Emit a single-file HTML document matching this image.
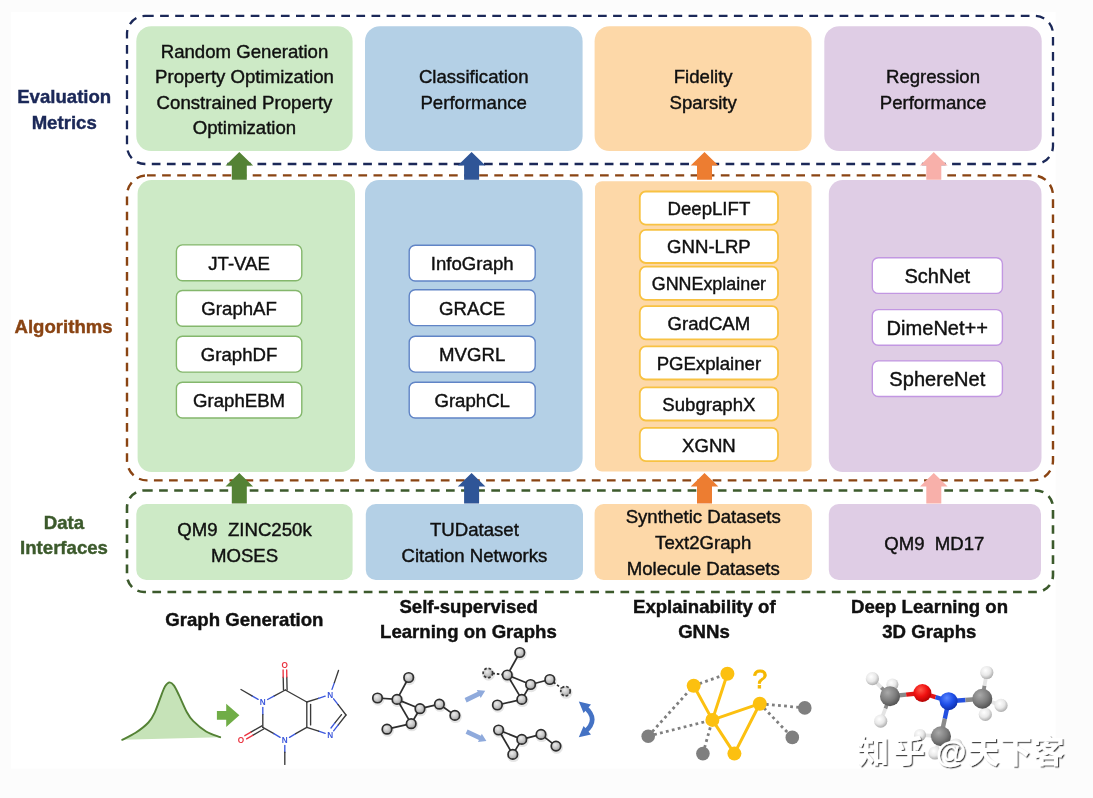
<!DOCTYPE html>
<html lang="en"><head><meta charset="utf-8"><title>DIG overview</title>
<style>
html,body{margin:0;padding:0;background:#fcfcfc;}
body{width:1093px;height:798px;overflow:hidden;}
svg{display:block;filter:blur(0.55px);}
text{font-family:"Liberation Sans","Noto Sans CJK SC",sans-serif;font-size:17.9px;text-anchor:middle;fill:#101010;stroke:#101010;stroke-width:0.4px;}
text.b{font-weight:bold;}
</style></head><body>
<svg width="1093" height="798" viewBox="0 0 1093 798">
<rect x="0" y="0" width="1093" height="798" fill="#fcfcfc"/>
<rect x="11" y="12" width="1044.5" height="756.5" fill="#ffffff"/>
<rect x="136.3" y="26.2" width="216.3" height="124.9" rx="15" fill="#cdeac6" />
<rect x="365.0" y="26.2" width="217.6" height="124.9" rx="15" fill="#b4d0e6" />
<rect x="594.6" y="26.2" width="217.0" height="124.9" rx="15" fill="#fdd8a8" />
<rect x="824.3" y="26.2" width="217.4" height="124.9" rx="15" fill="#dfcde5" />
<rect x="137.6" y="180.0" width="217.4" height="292.0" rx="14" fill="#cdeac6" />
<rect x="365.0" y="180.0" width="217.6" height="292.0" rx="14" fill="#b4d0e6" />
<rect x="595.0" y="181.3" width="216.6" height="290.3" rx="7" fill="#fdd8a8" />
<rect x="828.8" y="180.0" width="212.7" height="292.0" rx="14" fill="#dfcde5" />
<rect x="136.3" y="504.0" width="216.3" height="76.0" rx="10" fill="#cdeac6" />
<rect x="365.8" y="504.0" width="217.2" height="76.0" rx="10" fill="#b4d0e6" />
<rect x="594.6" y="504.0" width="217.3" height="76.0" rx="9" fill="#fdd8a8" />
<rect x="828.8" y="504.0" width="212.2" height="76.0" rx="10" fill="#dfcde5" />
<rect x="127" y="15.9" width="926" height="148.1" rx="18" fill="none" stroke="#1b2858" stroke-width="2.3" stroke-dasharray="8.7 6.4" stroke-dashoffset="0"/>
<rect x="127" y="175.4" width="926" height="305.0" rx="20" fill="none" stroke="#8a4413" stroke-width="2.4" stroke-dasharray="8.7 6.4" stroke-dashoffset="0"/>
<rect x="127" y="490.5" width="926" height="101.5" rx="17" fill="none" stroke="#3c5a2c" stroke-width="2.6" stroke-dasharray="8.7 6.4" stroke-dashoffset="0"/>
<path d="M239.3 152.0 L253.1 165.4 L246.8 165.4 L246.8 179.8 L231.8 179.8 L231.8 165.4 L225.5 165.4 Z" fill="#548235"/>
<path d="M239.3 473.0 L253.1 486.4 L246.8 486.4 L246.8 503.5 L231.8 503.5 L231.8 486.4 L225.5 486.4 Z" fill="#548235"/>
<path d="M471.6 152.0 L485.4 165.4 L479.1 165.4 L479.1 179.8 L464.1 179.8 L464.1 165.4 L457.8 165.4 Z" fill="#2f5597"/>
<path d="M471.6 473.0 L485.4 486.4 L479.1 486.4 L479.1 503.5 L464.1 503.5 L464.1 486.4 L457.8 486.4 Z" fill="#2f5597"/>
<path d="M704.5 152.0 L718.3 165.4 L712.0 165.4 L712.0 179.8 L697.0 179.8 L697.0 165.4 L690.7 165.4 Z" fill="#ed7d31"/>
<path d="M704.5 473.0 L718.3 486.4 L712.0 486.4 L712.0 503.5 L697.0 503.5 L697.0 486.4 L690.7 486.4 Z" fill="#ed7d31"/>
<path d="M933.8 152.0 L947.6 165.4 L941.3 165.4 L941.3 179.8 L926.3 179.8 L926.3 165.4 L920.0 165.4 Z" fill="#f8b0aa"/>
<path d="M933.8 473.0 L947.6 486.4 L941.3 486.4 L941.3 503.5 L926.3 503.5 L926.3 486.4 L920.0 486.4 Z" fill="#f8b0aa"/>
<text transform="translate(244.5 57.7) scale(1.04 1)" class="t" >Random Generation</text>
<text transform="translate(244.5 83.4) scale(1.04 1)" class="t" >Property Optimization</text>
<text transform="translate(244.5 109.0) scale(1.04 1)" class="t" >Constrained Property</text>
<text transform="translate(244.5 134.3) scale(1.04 1)" class="t" >Optimization</text>
<text transform="translate(473.7 83.4) scale(1.04 1)" class="t" >Classification</text>
<text transform="translate(473.7 109.0) scale(1.04 1)" class="t" >Performance</text>
<text transform="translate(703.2 83.4) scale(1.04 1)" class="t" >Fidelity</text>
<text transform="translate(703.2 109.0) scale(1.04 1)" class="t" >Sparsity</text>
<text transform="translate(933.0 83.4) scale(1.04 1)" class="t" >Regression</text>
<text transform="translate(933.0 109.0) scale(1.04 1)" class="t" >Performance</text>
<rect x="176.4" y="244.9" width="125.4" height="35.8" rx="6" fill="#ffffff" stroke="#84b76c" stroke-width="1.4" />
<text transform="translate(239.1 269.8) scale(1.04 1)" class="t" >JT-VAE</text>
<rect x="176.4" y="290.5" width="125.4" height="35.8" rx="6" fill="#ffffff" stroke="#84b76c" stroke-width="1.4" />
<text transform="translate(239.1 315.4) scale(1.04 1)" class="t" >GraphAF</text>
<rect x="176.4" y="336.3" width="125.4" height="35.8" rx="6" fill="#ffffff" stroke="#84b76c" stroke-width="1.4" />
<text transform="translate(239.1 361.2) scale(1.04 1)" class="t" >GraphDF</text>
<rect x="176.4" y="382.2" width="125.4" height="35.8" rx="6" fill="#ffffff" stroke="#84b76c" stroke-width="1.4" />
<text transform="translate(239.1 407.1) scale(1.04 1)" class="t" >GraphEBM</text>
<rect x="409.2" y="245.2" width="126.0" height="35.8" rx="6" fill="#ffffff" stroke="#6084c6" stroke-width="1.4" />
<text transform="translate(472.2 270.1) scale(1.04 1)" class="t" >InfoGraph</text>
<rect x="409.2" y="289.8" width="126.0" height="35.8" rx="6" fill="#ffffff" stroke="#6084c6" stroke-width="1.4" />
<text transform="translate(472.2 314.7) scale(1.04 1)" class="t" >GRACE</text>
<rect x="409.2" y="336.3" width="126.0" height="35.8" rx="6" fill="#ffffff" stroke="#6084c6" stroke-width="1.4" />
<text transform="translate(472.2 361.2) scale(1.04 1)" class="t" >MVGRL</text>
<rect x="409.2" y="382.2" width="126.0" height="35.8" rx="6" fill="#ffffff" stroke="#6084c6" stroke-width="1.4" />
<text transform="translate(472.2 407.1) scale(1.04 1)" class="t" >GraphCL</text>
<rect x="639.8" y="191.5" width="138.2" height="33.2" rx="6" fill="#ffffff" stroke="#f8c242" stroke-width="1.8" />
<text transform="translate(708.9 215.1) scale(1.04 1)" class="t" >DeepLIFT</text>
<rect x="639.8" y="229.8" width="138.2" height="33.2" rx="6" fill="#ffffff" stroke="#f8c242" stroke-width="1.8" />
<text transform="translate(708.9 253.4) scale(1.04 1)" class="t" >GNN-LRP</text>
<rect x="639.8" y="266.6" width="138.2" height="33.2" rx="6" fill="#ffffff" stroke="#f8c242" stroke-width="1.8" />
<text transform="translate(708.9 290.2) scale(1.0 1)" class="t" >GNNExplainer</text>
<rect x="639.8" y="306.2" width="138.2" height="33.2" rx="6" fill="#ffffff" stroke="#f8c242" stroke-width="1.8" />
<text transform="translate(708.9 329.8) scale(1.04 1)" class="t" >GradCAM</text>
<rect x="639.8" y="346.3" width="138.2" height="33.2" rx="6" fill="#ffffff" stroke="#f8c242" stroke-width="1.8" />
<text transform="translate(708.9 369.9) scale(1.04 1)" class="t" >PGExplainer</text>
<rect x="639.8" y="387.3" width="138.2" height="33.2" rx="6" fill="#ffffff" stroke="#f8c242" stroke-width="1.8" />
<text transform="translate(708.9 410.9) scale(1.04 1)" class="t" >SubgraphX</text>
<rect x="639.8" y="427.9" width="138.2" height="33.2" rx="6" fill="#ffffff" stroke="#f8c242" stroke-width="1.8" />
<text transform="translate(708.9 451.5) scale(1.04 1)" class="t" >XGNN</text>
<rect x="872.3" y="257.8" width="130.1" height="35.6" rx="6" fill="#ffffff" stroke="#c297e2" stroke-width="1.4" />
<text transform="translate(937.3 282.9) scale(1.04 1)" class="t" style="font-size:19.3px">SchNet</text>
<rect x="872.3" y="309.6" width="130.1" height="35.6" rx="6" fill="#ffffff" stroke="#c297e2" stroke-width="1.4" />
<text transform="translate(937.3 334.7) scale(1.04 1)" class="t" style="font-size:19.3px">DimeNet++</text>
<rect x="872.3" y="360.9" width="130.1" height="35.6" rx="6" fill="#ffffff" stroke="#c297e2" stroke-width="1.4" />
<text transform="translate(937.3 386.0) scale(1.04 1)" class="t" style="font-size:19.3px">SphereNet</text>
<text transform="translate(244.5 536.4) scale(1.04 1)" class="t" >QM9&#160;&#160;ZINC250k</text>
<text transform="translate(244.5 562.3) scale(1.04 1)" class="t" >MOSES</text>
<text transform="translate(474.4 536.4) scale(1.04 1)" class="t" >TUDataset</text>
<text transform="translate(474.4 562.3) scale(1.04 1)" class="t" >Citation Networks</text>
<text transform="translate(703.2 523.4) scale(1.04 1)" class="t" >Synthetic Datasets</text>
<text transform="translate(703.2 549.0) scale(1.04 1)" class="t" >Text2Graph</text>
<text transform="translate(703.2 574.8) scale(1.04 1)" class="t" >Molecule Datasets</text>
<text transform="translate(934.3 549.7) scale(1.04 1)" class="t" >QM9&#160;&#160;MD17</text>
<text transform="translate(64.2 103.2) scale(1.04 1)" class="b" style="fill:#1b2858;stroke:#1b2858">Evaluation</text>
<text transform="translate(64.2 128.7) scale(1.04 1)" class="b" style="fill:#1b2858;stroke:#1b2858">Metrics</text>
<text transform="translate(63.6 332.6) scale(1.04 1)" class="b" style="fill:#8a4413;stroke:#8a4413">Algorithms</text>
<text transform="translate(64.0 528.6) scale(1.04 1)" class="b" style="fill:#3c5a2c;stroke:#3c5a2c">Data</text>
<text transform="translate(64.0 553.9) scale(1.04 1)" class="b" style="fill:#3c5a2c;stroke:#3c5a2c">Interfaces</text>
<text transform="translate(244.4 626.0) scale(1.04 1)" class="b" >Graph Generation</text>
<text transform="translate(468.7 612.9) scale(1.04 1)" class="b" >Self-supervised</text>
<text transform="translate(468.4 638.4) scale(1.04 1)" class="b" >Learning on Graphs</text>
<text transform="translate(704.3 612.9) scale(1.04 1)" class="b" >Explainability of</text>
<text transform="translate(704.0 638.4) scale(1.04 1)" class="b" >GNNs</text>
<text transform="translate(929.5 613.0) scale(1.04 1)" class="b" >Deep Learning on</text>
<text transform="translate(929.3 638.4) scale(1.04 1)" class="b" >3D Graphs</text>
<defs>
<radialGradient id="gn" cx="0.4" cy="0.35" r="0.7"><stop offset="0" stop-color="#ececec"/><stop offset="0.6" stop-color="#c2c2c2"/><stop offset="1" stop-color="#8e8e8e"/></radialGradient>
<radialGradient id="gc" cx="0.38" cy="0.32" r="0.75"><stop offset="0" stop-color="#a9a9a9"/><stop offset="0.55" stop-color="#7d7d7d"/><stop offset="1" stop-color="#4a4a4a"/></radialGradient>
<radialGradient id="gh" cx="0.4" cy="0.35" r="0.75"><stop offset="0" stop-color="#ffffff"/><stop offset="0.5" stop-color="#e8e8e8"/><stop offset="1" stop-color="#9a9a9a"/></radialGradient>
<radialGradient id="go" cx="0.4" cy="0.32" r="0.75"><stop offset="0" stop-color="#ff5a4a"/><stop offset="0.5" stop-color="#f01010"/><stop offset="1" stop-color="#a80000"/></radialGradient>
<radialGradient id="gnb" cx="0.4" cy="0.32" r="0.75"><stop offset="0" stop-color="#5a86ff"/><stop offset="0.5" stop-color="#1f4fe8"/><stop offset="1" stop-color="#0b2aa0"/></radialGradient>
</defs>
<path d="M122.2 739.8 C124.4 738.6 131.2 735.7 135.6 732.8 C140.0 729.9 145.2 725.9 148.4 722.5 C151.6 719.1 152.7 716.8 154.8 712.3 C156.9 707.8 159.5 700.0 161.2 695.6 C162.9 691.2 163.7 688.4 165.1 686.2 C166.5 684.0 168.1 682.5 169.6 682.4 C171.1 682.3 172.4 683.4 174.0 685.6 C175.6 687.8 177.0 691.2 179.2 695.6 C181.3 700.0 184.6 708.0 186.9 712.3 C189.2 716.6 190.1 718.0 193.3 721.2 C196.5 724.4 201.6 728.8 206.1 731.5 C210.6 734.2 217.8 736.2 220.2 737.2 Z" fill="#c6e3b8"/>
<path d="M122.2 739.8 C124.4 738.6 131.2 735.7 135.6 732.8 C140.0 729.9 145.2 725.9 148.4 722.5 C151.6 719.1 152.7 716.8 154.8 712.3 C156.9 707.8 159.5 700.0 161.2 695.6 C162.9 691.2 163.7 688.4 165.1 686.2 C166.5 684.0 168.1 682.5 169.6 682.4 C171.1 682.3 172.4 683.4 174.0 685.6 C175.6 687.8 177.0 691.2 179.2 695.6 C181.3 700.0 184.6 708.0 186.9 712.3 C189.2 716.6 190.1 718.0 193.3 721.2 C196.5 724.4 201.6 728.8 206.1 731.5 C210.6 734.2 217.8 736.2 220.2 737.2" fill="none" stroke="#548235" stroke-width="1.9" stroke-linejoin="round" stroke-linecap="round"/>
<path d="M216.9 711 L226.2 711 L226.2 703.7 L239.4 715.3 L226.2 726.9 L226.2 719.8 L216.9 719.8 Z" fill="#70ad47"/>
<line x1="287.1" y1="690.0" x2="286.8" y2="677.1" stroke="#3a3a3a" stroke-width="1.35" stroke-linecap="round"/>
<line x1="286.8" y1="677.1" x2="286.7" y2="669.9" stroke="#ea3340" stroke-width="1.35" stroke-linecap="round"/>
<line x1="283.5" y1="690.0" x2="283.2" y2="677.2" stroke="#3a3a3a" stroke-width="1.35" stroke-linecap="round"/>
<line x1="283.2" y1="677.2" x2="283.1" y2="669.9" stroke="#ea3340" stroke-width="1.35" stroke-linecap="round"/>
<line x1="285.3" y1="690.0" x2="273.9" y2="696.1" stroke="#3a3a3a" stroke-width="1.35" stroke-linecap="round"/>
<line x1="273.9" y1="696.1" x2="267.6" y2="699.5" stroke="#3c58dc" stroke-width="1.35" stroke-linecap="round"/>
<line x1="258.1" y1="699.3" x2="252.0" y2="695.8" stroke="#3c58dc" stroke-width="1.35" stroke-linecap="round"/>
<line x1="252.0" y1="695.8" x2="241.0" y2="689.5" stroke="#3a3a3a" stroke-width="1.35" stroke-linecap="round"/>
<line x1="262.8" y1="707.4" x2="262.8" y2="714.6" stroke="#3c58dc" stroke-width="1.35" stroke-linecap="round"/>
<line x1="262.8" y1="714.6" x2="262.8" y2="727.4" stroke="#3a3a3a" stroke-width="1.35" stroke-linecap="round"/>
<line x1="261.9" y1="725.8" x2="250.9" y2="732.2" stroke="#3a3a3a" stroke-width="1.35" stroke-linecap="round"/>
<line x1="250.9" y1="732.2" x2="244.8" y2="735.7" stroke="#ea3340" stroke-width="1.35" stroke-linecap="round"/>
<line x1="263.7" y1="729.0" x2="252.7" y2="735.3" stroke="#3a3a3a" stroke-width="1.35" stroke-linecap="round"/>
<line x1="252.7" y1="735.3" x2="246.6" y2="738.9" stroke="#ea3340" stroke-width="1.35" stroke-linecap="round"/>
<line x1="262.8" y1="727.4" x2="273.9" y2="733.7" stroke="#3a3a3a" stroke-width="1.35" stroke-linecap="round"/>
<line x1="273.9" y1="733.7" x2="280.1" y2="737.3" stroke="#3c58dc" stroke-width="1.35" stroke-linecap="round"/>
<line x1="284.8" y1="745.4" x2="284.8" y2="752.2" stroke="#3c58dc" stroke-width="1.35" stroke-linecap="round"/>
<line x1="284.8" y1="752.2" x2="284.8" y2="764.4" stroke="#3a3a3a" stroke-width="1.35" stroke-linecap="round"/>
<line x1="289.5" y1="737.3" x2="295.7" y2="733.7" stroke="#3c58dc" stroke-width="1.35" stroke-linecap="round"/>
<line x1="295.7" y1="733.7" x2="306.8" y2="727.4" stroke="#3a3a3a" stroke-width="1.35" stroke-linecap="round"/>
<line x1="306.8" y1="727.4" x2="306.8" y2="702.0" stroke="#3a3a3a" stroke-width="1.35" stroke-linecap="round"/>
<line x1="310.6" y1="724.9" x2="310.6" y2="704.5" stroke="#3a3a3a" stroke-width="1.35" stroke-linecap="round"/>
<line x1="306.8" y1="702.0" x2="285.3" y2="690.0" stroke="#3a3a3a" stroke-width="1.35" stroke-linecap="round"/>
<line x1="306.8" y1="702.0" x2="318.5" y2="698.3" stroke="#3a3a3a" stroke-width="1.35" stroke-linecap="round"/>
<line x1="318.5" y1="698.3" x2="325.2" y2="696.1" stroke="#3c58dc" stroke-width="1.35" stroke-linecap="round"/>
<line x1="332.0" y1="689.4" x2="334.4" y2="682.6" stroke="#3c58dc" stroke-width="1.35" stroke-linecap="round"/>
<line x1="334.4" y1="682.6" x2="338.5" y2="670.5" stroke="#3a3a3a" stroke-width="1.35" stroke-linecap="round"/>
<line x1="333.6" y1="698.8" x2="338.1" y2="704.6" stroke="#3c58dc" stroke-width="1.35" stroke-linecap="round"/>
<line x1="338.1" y1="704.6" x2="346.0" y2="715.0" stroke="#3a3a3a" stroke-width="1.35" stroke-linecap="round"/>
<line x1="346.0" y1="715.0" x2="338.1" y2="725.1" stroke="#3a3a3a" stroke-width="1.35" stroke-linecap="round"/>
<line x1="338.1" y1="725.1" x2="333.6" y2="730.8" stroke="#3c58dc" stroke-width="1.35" stroke-linecap="round"/>
<line x1="341.5" y1="714.6" x2="334.7" y2="723.2" stroke="#3a3a3a" stroke-width="1.35" stroke-linecap="round"/>
<line x1="334.7" y1="723.2" x2="331.0" y2="728.0" stroke="#3c58dc" stroke-width="1.35" stroke-linecap="round"/>
<line x1="325.2" y1="733.3" x2="318.6" y2="731.2" stroke="#3c58dc" stroke-width="1.35" stroke-linecap="round"/>
<line x1="318.6" y1="731.2" x2="306.8" y2="727.4" stroke="#3a3a3a" stroke-width="1.35" stroke-linecap="round"/>
<text x="284.8" y="667.5" style="font-size:8.2px;font-weight:bold;stroke:none;fill:#ea3340">O</text>
<text x="262.8" y="705.0" style="font-size:8.2px;font-weight:bold;stroke:none;fill:#3c58dc">N</text>
<text x="241.0" y="743.0" style="font-size:8.2px;font-weight:bold;stroke:none;fill:#ea3340">O</text>
<text x="284.8" y="743.0" style="font-size:8.2px;font-weight:bold;stroke:none;fill:#3c58dc">N</text>
<text x="330.3" y="697.5" style="font-size:8.2px;font-weight:bold;stroke:none;fill:#3c58dc">N</text>
<text x="330.3" y="738.0" style="font-size:8.2px;font-weight:bold;stroke:none;fill:#3c58dc">N</text>
<line x1="408.7" y1="677.5" x2="397.0" y2="699.4" stroke="#2e2e2e" stroke-width="1.7"/>
<line x1="377.5" y1="698.0" x2="397.0" y2="699.4" stroke="#2e2e2e" stroke-width="1.7"/>
<line x1="397.0" y1="699.4" x2="420.0" y2="708.7" stroke="#2e2e2e" stroke-width="1.7"/>
<line x1="397.0" y1="699.4" x2="411.2" y2="723.7" stroke="#2e2e2e" stroke-width="1.7"/>
<line x1="420.0" y1="708.7" x2="411.2" y2="723.7" stroke="#2e2e2e" stroke-width="1.7"/>
<line x1="411.2" y1="723.7" x2="387.0" y2="729.2" stroke="#2e2e2e" stroke-width="1.7"/>
<line x1="420.0" y1="708.7" x2="439.4" y2="704.2" stroke="#2e2e2e" stroke-width="1.7"/>
<line x1="439.4" y1="704.2" x2="454.9" y2="715.4" stroke="#2e2e2e" stroke-width="1.7"/>
<circle cx="409.3" cy="678.8" r="6.35" fill="#000" opacity="0.10"/>
<circle cx="408.7" cy="677.5" r="4.75" fill="url(#gn)" stroke="#2e2e2e" stroke-width="1.7"/>
<circle cx="378.1" cy="699.3" r="6.35" fill="#000" opacity="0.10"/>
<circle cx="377.5" cy="698.0" r="4.75" fill="url(#gn)" stroke="#2e2e2e" stroke-width="1.7"/>
<circle cx="397.6" cy="700.7" r="6.35" fill="#000" opacity="0.10"/>
<circle cx="397.0" cy="699.4" r="4.75" fill="url(#gn)" stroke="#2e2e2e" stroke-width="1.7"/>
<circle cx="420.6" cy="710.0" r="6.35" fill="#000" opacity="0.10"/>
<circle cx="420.0" cy="708.7" r="4.75" fill="url(#gn)" stroke="#2e2e2e" stroke-width="1.7"/>
<circle cx="411.8" cy="725.0" r="6.35" fill="#000" opacity="0.10"/>
<circle cx="411.2" cy="723.7" r="4.75" fill="url(#gn)" stroke="#2e2e2e" stroke-width="1.7"/>
<circle cx="387.6" cy="730.5" r="6.35" fill="#000" opacity="0.10"/>
<circle cx="387.0" cy="729.2" r="4.75" fill="url(#gn)" stroke="#2e2e2e" stroke-width="1.7"/>
<circle cx="440.0" cy="705.5" r="6.35" fill="#000" opacity="0.10"/>
<circle cx="439.4" cy="704.2" r="4.75" fill="url(#gn)" stroke="#2e2e2e" stroke-width="1.7"/>
<circle cx="455.5" cy="716.7" r="6.35" fill="#000" opacity="0.10"/>
<circle cx="454.9" cy="715.4" r="4.75" fill="url(#gn)" stroke="#2e2e2e" stroke-width="1.7"/>
<line x1="519.8" y1="652.5" x2="507.3" y2="675.0" stroke="#2e2e2e" stroke-width="1.7"/>
<line x1="487.9" y1="673.0" x2="507.3" y2="675.0" stroke="#2e2e2e" stroke-width="1.7" stroke-dasharray="2.5 2"/>
<line x1="507.3" y1="675.0" x2="530.6" y2="684.5" stroke="#2e2e2e" stroke-width="1.7"/>
<line x1="507.3" y1="675.0" x2="521.8" y2="699.4" stroke="#2e2e2e" stroke-width="1.7"/>
<line x1="530.6" y1="684.5" x2="521.8" y2="699.4" stroke="#2e2e2e" stroke-width="1.7"/>
<line x1="521.8" y1="699.4" x2="497.4" y2="705.0" stroke="#2e2e2e" stroke-width="1.7"/>
<line x1="530.6" y1="684.5" x2="549.8" y2="679.5" stroke="#2e2e2e" stroke-width="1.7"/>
<line x1="549.8" y1="679.5" x2="565.5" y2="691.2" stroke="#2e2e2e" stroke-width="1.7" stroke-dasharray="2.5 2"/>
<circle cx="520.4" cy="653.8" r="6.35" fill="#000" opacity="0.10"/>
<circle cx="519.8" cy="652.5" r="4.75" fill="url(#gn)" stroke="#2e2e2e" stroke-width="1.7"/>
<circle cx="488.5" cy="674.3" r="6.35" fill="#000" opacity="0.10"/>
<circle cx="487.9" cy="673.0" r="4.75" fill="url(#gn)" stroke="#3a3a3a" stroke-width="1.7" stroke-dasharray="2.6 1.9"/>
<circle cx="507.9" cy="676.3" r="6.35" fill="#000" opacity="0.10"/>
<circle cx="507.3" cy="675.0" r="4.75" fill="url(#gn)" stroke="#2e2e2e" stroke-width="1.7"/>
<circle cx="531.2" cy="685.8" r="6.35" fill="#000" opacity="0.10"/>
<circle cx="530.6" cy="684.5" r="4.75" fill="url(#gn)" stroke="#2e2e2e" stroke-width="1.7"/>
<circle cx="522.4" cy="700.7" r="6.35" fill="#000" opacity="0.10"/>
<circle cx="521.8" cy="699.4" r="4.75" fill="url(#gn)" stroke="#2e2e2e" stroke-width="1.7"/>
<circle cx="498.0" cy="706.3" r="6.35" fill="#000" opacity="0.10"/>
<circle cx="497.4" cy="705.0" r="4.75" fill="url(#gn)" stroke="#2e2e2e" stroke-width="1.7"/>
<circle cx="550.4" cy="680.8" r="6.35" fill="#000" opacity="0.10"/>
<circle cx="549.8" cy="679.5" r="4.75" fill="url(#gn)" stroke="#2e2e2e" stroke-width="1.7"/>
<circle cx="566.1" cy="692.5" r="6.35" fill="#000" opacity="0.10"/>
<circle cx="565.5" cy="691.2" r="4.75" fill="url(#gn)" stroke="#3a3a3a" stroke-width="1.7" stroke-dasharray="2.6 1.9"/>
<line x1="498.6" y1="730.0" x2="521.8" y2="739.4" stroke="#2e2e2e" stroke-width="1.7"/>
<line x1="498.6" y1="730.0" x2="512.8" y2="754.4" stroke="#2e2e2e" stroke-width="1.7"/>
<line x1="521.8" y1="739.4" x2="512.8" y2="754.4" stroke="#2e2e2e" stroke-width="1.7"/>
<line x1="521.8" y1="739.4" x2="541.0" y2="734.4" stroke="#2e2e2e" stroke-width="1.7"/>
<line x1="541.0" y1="734.4" x2="556.0" y2="746.1" stroke="#2e2e2e" stroke-width="1.7"/>
<circle cx="499.2" cy="731.3" r="6.35" fill="#000" opacity="0.10"/>
<circle cx="498.6" cy="730.0" r="4.75" fill="url(#gn)" stroke="#2e2e2e" stroke-width="1.7"/>
<circle cx="522.4" cy="740.7" r="6.35" fill="#000" opacity="0.10"/>
<circle cx="521.8" cy="739.4" r="4.75" fill="url(#gn)" stroke="#2e2e2e" stroke-width="1.7"/>
<circle cx="513.4" cy="755.7" r="6.35" fill="#000" opacity="0.10"/>
<circle cx="512.8" cy="754.4" r="4.75" fill="url(#gn)" stroke="#2e2e2e" stroke-width="1.7"/>
<circle cx="541.6" cy="735.7" r="6.35" fill="#000" opacity="0.10"/>
<circle cx="541.0" cy="734.4" r="4.75" fill="url(#gn)" stroke="#2e2e2e" stroke-width="1.7"/>
<circle cx="556.6" cy="747.4" r="6.35" fill="#000" opacity="0.10"/>
<circle cx="556.0" cy="746.1" r="4.75" fill="url(#gn)" stroke="#2e2e2e" stroke-width="1.7"/>
<path d="M466.6 702.5 L479.8 696.1 L480.7 698.0 L485.2 690.8 L476.8 689.9 L477.7 691.8 L464.6 698.1 Z" fill="#8faadc"/>
<path d="M465.6 733.8 L478.9 740.0 L478.0 741.9 L486.4 740.9 L481.8 733.8 L480.9 735.7 L467.6 729.4 Z" fill="#8faadc"/>
<path d="M584.8 707 Q599.6 719.5 584.8 732" fill="none" stroke="#4472c4" stroke-width="4.8"/>
<path d="M578.8 701.6 L591 704.6 L583.6 713 Z" fill="#4472c4"/>
<path d="M578.8 737.3 L591 734.4 L583.6 726 Z" fill="#4472c4"/>
<line x1="648.2" y1="736.2" x2="693.7" y2="685.7" stroke="#7f7f7f" stroke-width="2.8" stroke-dasharray="2.8 3.3"/>
<line x1="648.2" y1="736.2" x2="712.4" y2="719.9" stroke="#7f7f7f" stroke-width="2.8" stroke-dasharray="2.8 3.3"/>
<line x1="702.9" y1="753.6" x2="712.4" y2="719.9" stroke="#7f7f7f" stroke-width="2.8" stroke-dasharray="2.8 3.3"/>
<line x1="693.7" y1="685.7" x2="727.4" y2="673.7" stroke="#7f7f7f" stroke-width="2.8" stroke-dasharray="2.8 3.3"/>
<line x1="759.8" y1="703.7" x2="804.8" y2="707.9" stroke="#7f7f7f" stroke-width="2.8" stroke-dasharray="2.8 3.3"/>
<line x1="759.8" y1="703.7" x2="792.3" y2="737.4" stroke="#7f7f7f" stroke-width="2.8" stroke-dasharray="2.8 3.3"/>
<line x1="693.7" y1="685.7" x2="712.4" y2="719.9" stroke="#fcc010" stroke-width="3.0" stroke-linecap="round"/>
<line x1="727.4" y1="673.7" x2="712.4" y2="719.9" stroke="#fcc010" stroke-width="3.0" stroke-linecap="round"/>
<line x1="712.4" y1="719.9" x2="759.8" y2="703.7" stroke="#fcc010" stroke-width="3.0" stroke-linecap="round"/>
<line x1="712.4" y1="719.9" x2="734.4" y2="753.6" stroke="#fcc010" stroke-width="3.0" stroke-linecap="round"/>
<line x1="759.8" y1="703.7" x2="734.4" y2="753.6" stroke="#fcc010" stroke-width="3.0" stroke-linecap="round"/>
<circle cx="648.2" cy="736.2" r="6.8" fill="#7f7f7f"/>
<circle cx="702.9" cy="753.6" r="6.8" fill="#7f7f7f"/>
<circle cx="804.8" cy="707.9" r="6.8" fill="#7f7f7f"/>
<circle cx="792.3" cy="737.4" r="6.8" fill="#7f7f7f"/>
<circle cx="693.7" cy="685.7" r="7" fill="#fcc010"/>
<circle cx="727.4" cy="673.7" r="7" fill="#fcc010"/>
<circle cx="712.4" cy="719.9" r="7" fill="#fcc010"/>
<circle cx="759.8" cy="703.7" r="7" fill="#fcc010"/>
<circle cx="734.4" cy="753.6" r="7" fill="#fcc010"/>
<text x="759.8" y="687.6" style="font-size:26.5px;fill:#f5b800;stroke:#f5b800;stroke-width:0.8px">?</text>
<line x1="890.0" y1="696.2" x2="891.2" y2="690.4" stroke="#8a8a8a" stroke-width="3.6"/>
<line x1="891.2" y1="690.4" x2="892.4" y2="684.5" stroke="#e4e4e4" stroke-width="3.6"/>
<circle cx="892.4" cy="684.5" r="6" fill="url(#gh)"/>
<line x1="941.0" y1="736.2" x2="930.5" y2="735.6" stroke="#8a8a8a" stroke-width="3.6"/>
<line x1="930.5" y1="735.6" x2="920.0" y2="735.0" stroke="#e4e4e4" stroke-width="3.6"/>
<circle cx="920.0" cy="735.0" r="6" fill="url(#gh)"/>
<line x1="890.0" y1="696.2" x2="881.2" y2="687.5" stroke="#8a8a8a" stroke-width="3.8"/>
<line x1="881.2" y1="687.5" x2="872.4" y2="678.7" stroke="#e4e4e4" stroke-width="3.8"/>
<line x1="890.0" y1="696.2" x2="885.4" y2="708.7" stroke="#8a8a8a" stroke-width="3.8"/>
<line x1="885.4" y1="708.7" x2="880.7" y2="721.2" stroke="#e4e4e4" stroke-width="3.8"/>
<line x1="982.3" y1="698.7" x2="984.5" y2="685.6" stroke="#8a8a8a" stroke-width="3.8"/>
<line x1="984.5" y1="685.6" x2="986.8" y2="672.5" stroke="#e4e4e4" stroke-width="3.8"/>
<line x1="982.3" y1="698.7" x2="991.6" y2="702.0" stroke="#8a8a8a" stroke-width="3.8"/>
<line x1="991.6" y1="702.0" x2="1001.0" y2="705.4" stroke="#e4e4e4" stroke-width="3.8"/>
<line x1="982.3" y1="698.7" x2="983.8" y2="706.5" stroke="#8a8a8a" stroke-width="3.8"/>
<line x1="983.8" y1="706.5" x2="985.3" y2="714.4" stroke="#e4e4e4" stroke-width="3.8"/>
<line x1="941.0" y1="736.2" x2="938.0" y2="744.6" stroke="#8a8a8a" stroke-width="3.8"/>
<line x1="938.0" y1="744.6" x2="935.0" y2="753.0" stroke="#e4e4e4" stroke-width="3.8"/>
<line x1="941.0" y1="736.2" x2="948.5" y2="740.6" stroke="#8a8a8a" stroke-width="3.8"/>
<line x1="948.5" y1="740.6" x2="956.0" y2="745.0" stroke="#e4e4e4" stroke-width="3.8"/>
<line x1="890.0" y1="696.2" x2="906.2" y2="694.6" stroke="#8a8a8a" stroke-width="4.4"/>
<line x1="906.2" y1="694.6" x2="922.4" y2="693.0" stroke="#e01515" stroke-width="4.4"/>
<line x1="922.4" y1="693.0" x2="935.5" y2="697.1" stroke="#e01515" stroke-width="4.4"/>
<line x1="935.5" y1="697.1" x2="948.6" y2="701.2" stroke="#2450e0" stroke-width="4.4"/>
<line x1="948.6" y1="701.2" x2="965.5" y2="700.0" stroke="#2450e0" stroke-width="4.4"/>
<line x1="965.5" y1="700.0" x2="982.3" y2="698.7" stroke="#8a8a8a" stroke-width="4.4"/>
<line x1="948.6" y1="701.2" x2="944.8" y2="718.7" stroke="#2450e0" stroke-width="4.4"/>
<line x1="944.8" y1="718.7" x2="941.0" y2="736.2" stroke="#8a8a8a" stroke-width="4.4"/>
<circle cx="872.4" cy="678.7" r="6.6" fill="url(#gh)"/>
<circle cx="880.7" cy="721.2" r="6.6" fill="url(#gh)"/>
<circle cx="986.8" cy="672.5" r="6.6" fill="url(#gh)"/>
<circle cx="1001.0" cy="705.4" r="6.6" fill="url(#gh)"/>
<circle cx="985.3" cy="714.4" r="6.6" fill="url(#gh)"/>
<circle cx="935.0" cy="753.0" r="6.6" fill="url(#gh)"/>
<circle cx="956.0" cy="745.0" r="6.6" fill="url(#gh)"/>
<circle cx="890.0" cy="696.2" r="10" fill="url(#gc)"/>
<circle cx="982.3" cy="698.7" r="10" fill="url(#gc)"/>
<circle cx="941.0" cy="736.2" r="10" fill="url(#gc)"/>
<circle cx="922.4" cy="693.0" r="9" fill="url(#go)"/>
<circle cx="948.6" cy="701.2" r="9" fill="url(#gnb)"/>
<text x="857.5" y="763.3" style="font-size:31.5px;letter-spacing:1.1px;text-anchor:start;fill:#ffffff;stroke:none;font-weight:700" filter="url(#wm)">知<tspan dx="3.3">乎</tspan> @天下客</text>
<defs><filter id="wm" x="-5%" y="-20%" width="110%" height="140%"><feDropShadow dx="1.2" dy="1.2" stdDeviation="0.65" flood-color="#000" flood-opacity="0.72"/></filter></defs>
</svg>
</body></html>
